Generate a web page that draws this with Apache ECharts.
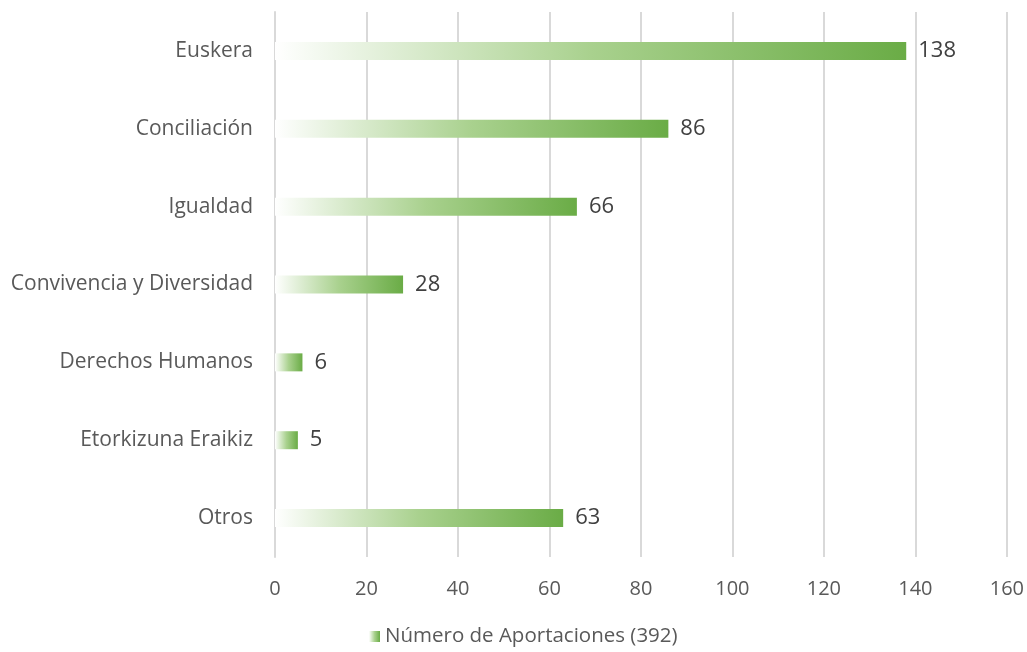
<!DOCTYPE html>
<html><head><meta charset="utf-8">
<script src="https://cdn.jsdelivr.net/npm/echarts@6/dist/echarts.min.js"></script>
<style>html,body{margin:0;padding:0;background:#fff}#c{width:1027px;height:652px}</style>
</head><body><div id="c"></div>
<script>
const categories = ["Euskera","Conciliación","Igualdad","Convivencia y Diversidad","Derechos Humanos","Etorkizuna Eraikiz","Otros"];
const values = [138,86,66,28,6,5,63];
const xTicks = [0,20,40,60,80,100,120,140,160];
const seriesName = "Número de Aportaciones (392)";

const chart = echarts.init(document.getElementById('c'));
const grad = new echarts.graphic.LinearGradient(0,0,1,0,[
  {offset:0,color:'rgba(255,255,255,1)'},
  {offset:0.5,color:'#a9d18e'},
  {offset:1,color:'#6aac46'}
]);
chart.setOption({
  animation:false,
  textStyle:{fontFamily:'Open Sans'},
  grid:{left:275,right:19,top:12,bottom:95,containLabel:false},
  xAxis:{type:'value',min:0,max:160,interval:20,
    axisLine:{show:false},axisTick:{show:false},
    splitLine:{lineStyle:{color:'#d9d9d9',width:2}},
    axisLabel:{color:'#595959',fontSize:20,margin:22}},
  yAxis:{type:'category',inverse:true,data:categories,
    axisLine:{show:true,lineStyle:{color:'#d9d9d9',width:2}},axisTick:{show:false},
    axisLabel:{color:'#595959',fontSize:21,margin:22}},
  legend:{bottom:0,left:364,itemWidth:11,itemHeight:11,itemGap:5,
    textStyle:{color:'#595959',fontSize:20.5},data:[{name:seriesName,icon:'rect'}]},
  series:[{name:seriesName,type:'bar',data:values,barWidth:18,
    itemStyle:{color:grad},
    label:{show:true,position:'right',distance:12,color:'#404040',fontSize:22}}]
});
</script></body></html>
